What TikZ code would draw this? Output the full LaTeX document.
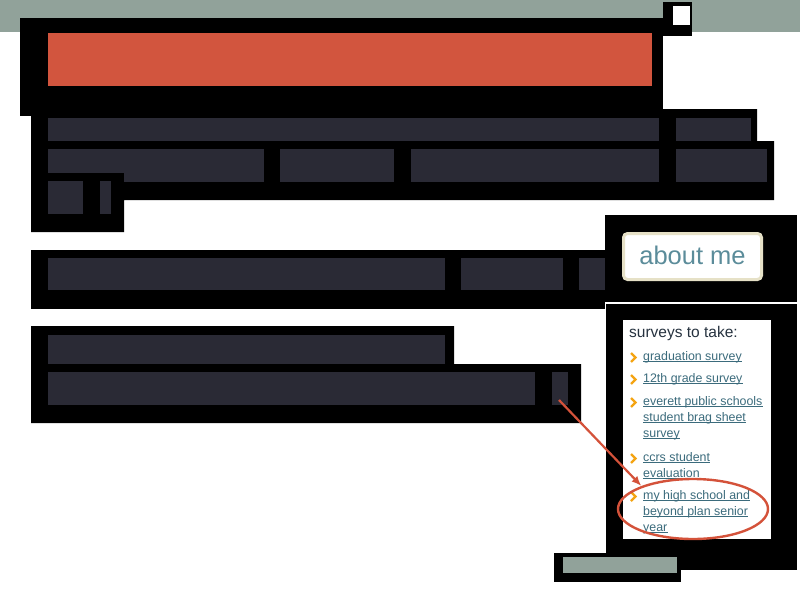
\documentclass[tikz,border=0pt]{standalone}
\usepackage{fontspec}
\setmainfont{Liberation Sans}
\usepackage{xcolor}
\usepackage{tikz}
\usetikzlibrary{shapes.geometric, arrows.meta}

\definecolor{bandgray}{HTML}{91A29A}
\definecolor{bannerred}{HTML}{D2553E}
\definecolor{barink}{HTML}{2A2A35}
\definecolor{tabbeige}{HTML}{E6E1C7}
\definecolor{tabtext}{HTML}{5B8C9A}
\definecolor{linkteal}{HTML}{3B6B7C}
\definecolor{headink}{HTML}{26323F}
\definecolor{chevorange}{HTML}{F4A412}
\definecolor{markred}{HTML}{D4523A}

\begin{document}
\begin{tikzpicture}[x=1pt, y=-1pt,
    blackout/.style={fill=black},
    bar/.style={fill=barink},
    tab/.style={rectangle, rounded corners=4pt, draw=tabbeige, line width=3pt, fill=white, minimum width=138pt, minimum height=46pt, text=tabtext, font=\fontsize{25.5}{30}\selectfont, text height=15pt, text depth=0pt},
    link/.style={anchor=base west, inner sep=0, font=\fontsize{12.4}{16}\selectfont, text=linkteal},
    underl/.style={draw=linkteal, line width=0.9pt},
    chevron/.style={draw=chevorange, line width=2.4pt},
    hilite/.style={ellipse, draw=markred, line width=2.4pt, minimum width=150pt, minimum height=60pt, inner sep=0}]
    \useasboundingbox (0,0) rectangle (800,600);
    \fill[white] (0,0) rectangle (800,600);
    \fill[bandgray] (0,0) rectangle (800,32);

    % header
    \fill[blackout] (20,18) rectangle (663,116);
    \fill[bannerred] (48,33) rectangle (652,86);
    \fill[blackout] (663,2) rectangle (692,36);
    \fill[white] (673,6) rectangle (690,25);

    % menu
    \fill[blackout] (31,116) -| (663,109) -| (757,141) -| (774,200) -| (124,232) -| cycle;
    \foreach \xa/\xb in {48/659, 676/751}
        \fill[bar] (\xa,118) rectangle (\xb,141);
    \foreach \xa/\xb in {48/264, 280/394, 411/659, 676/767}
        \fill[bar] (\xa,149) rectangle (\xb,182);
    \fill[blackout] (31,173) rectangle (124,232);
    \fill[bar] (48,181) rectangle (83,214);
    \fill[bar] (100,181) rectangle (111,214);

    % body
    \fill[blackout] (31,250) rectangle (605,309);
    \foreach \xa/\xb in {48/445, 461/563, 579/605}
        \fill[bar] (\xa,258) rectangle (\xb,290);
    \fill[blackout] (31,326) -| (454,364) -| (581,423) -| cycle;
    \fill[bar] (48,335) rectangle (445,364);
    \fill[bar] (48,372) rectangle (535,405);
    \fill[bar] (552,372) rectangle (568,405);
    \coordinate (redbar) at (559,400);

    % sidebar
    \fill[blackout] (605,215) rectangle (797,302);
    \node[tab] (abouttab) at (692.5,256.5) {about me};
    \fill[blackout] (606,304) rectangle (797,570);
    \fill[white] (623,320) rectangle (771,539);
    \node[anchor=base west, inner sep=0, font=\fontsize{15.5}{18}\selectfont, text=headink] (srvhead) at (629,337) {surveys to take:};
    \foreach \yy/\txt in {360/graduation survey, 382/12th grade survey, 405/everett public schools, 421/student brag sheet, 437/survey, 461/ccrs student, 477/evaluation, 499/my high school and, 515/beyond plan senior, 531/year} {
        \node[link] (ln\yy) at (643,\yy) {\txt};
        \draw[underl] ([yshift=-1.8pt]ln\yy.base west) -- ([yshift=-1.8pt]ln\yy.base east);
    }
    \foreach \yy in {360, 382, 405, 461, 499}
        \draw[chevron] (631,\yy-7) -- (635.5,\yy-2.5) -- (631,\yy+2);

    % footer
    \fill[blackout] (554,553) rectangle (681,582);
    \fill[bandgray] (563,557) rectangle (677,573);

    \node[hilite] (pick) at (693,509) {};
    \draw[markred, line width=2.2pt, -{Latex[length=10pt, width=8pt]}] (redbar) -- (pick.156);
\end{tikzpicture}
\end{document}
